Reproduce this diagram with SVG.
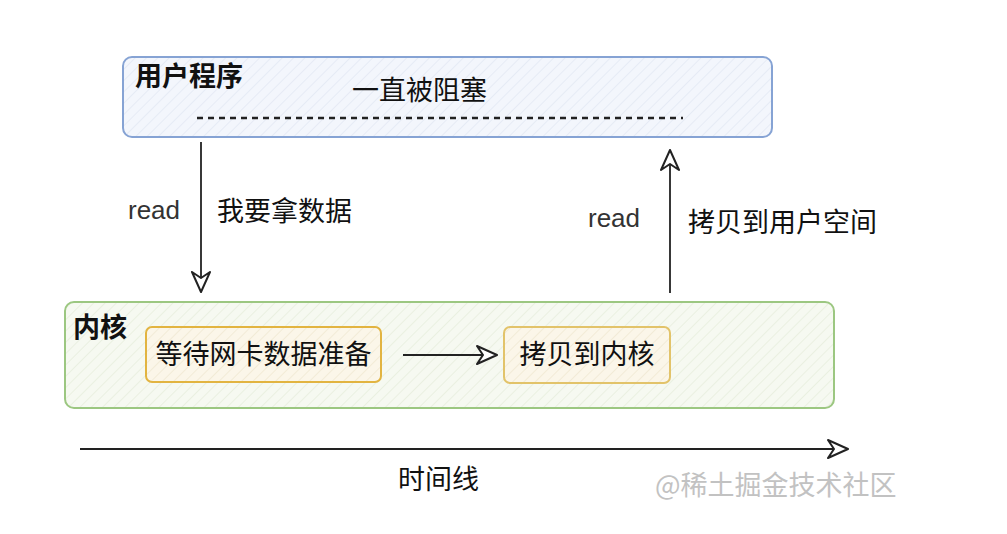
<svg xmlns="http://www.w3.org/2000/svg" width="1007" height="534" viewBox="0 0 1007 534">
<style>
.t{font-family:"Noto Sans CJK SC","Liberation Sans",sans-serif;font-size:27px;fill:#111}
.b{font-weight:bold}
.r{font-family:"Liberation Sans","Noto Sans CJK SC",sans-serif;font-size:26px;fill:#333}
.conn{stroke:#222;stroke-width:1.8;fill:none}
</style>
<defs>
<pattern id="hb" patternUnits="userSpaceOnUse" width="8" height="8" patternTransform="rotate(45)">
<rect width="8" height="8" fill="#f3f6fc"/><line x1="0" y1="0" x2="0" y2="8" stroke="#e2e8f3" stroke-width="1.5"/>
</pattern>
<pattern id="hg" patternUnits="userSpaceOnUse" width="8" height="8" patternTransform="rotate(45)">
<rect width="8" height="8" fill="#f6f9f1"/><line x1="0" y1="0" x2="0" y2="8" stroke="#e6eedc" stroke-width="1.5"/>
</pattern>
<pattern id="hy" patternUnits="userSpaceOnUse" width="8" height="8" patternTransform="rotate(45)">
<rect width="8" height="8" fill="#fbf6e9"/><line x1="0" y1="0" x2="0" y2="8" stroke="#f0e8d2" stroke-width="1.5"/>
</pattern>
<marker id="arr" viewBox="0 0 22 22" refX="21" refY="11" markerWidth="22" markerHeight="22" markerUnits="userSpaceOnUse" orient="auto">
<path d="M1,2 L21,11 L1,20 L7,11 Z" fill="#fff" stroke="#222" stroke-width="2" stroke-linejoin="round"/>
</marker>
</defs>
<rect width="1007" height="534" fill="#fff"/>
<g id="user">
<rect x="123" y="57" width="649" height="80" rx="9" fill="url(#hb)" stroke="#86a3d4" stroke-width="2"/>
<text class="t b" x="135" y="86" font-size="26">用户程序</text>
<text class="t" x="352" y="100">一直被阻塞</text>
<line x1="197" y1="118" x2="683" y2="118" stroke="#222" stroke-width="2.5" stroke-dasharray="6,5"/>
</g>
<g id="kernel">
<rect x="65" y="302" width="769" height="106" rx="9" fill="url(#hg)" stroke="#9cc781" stroke-width="2"/>
<text class="t b" x="73" y="337" font-size="25">内核</text>
</g>
<g id="wait">
<rect x="146" y="327" width="235" height="55" rx="6" fill="url(#hy)" stroke="#e2b441" stroke-width="2"/>
<text class="t" x="263.5" y="364" text-anchor="middle">等待网卡数据准备</text>
</g>
<g id="copyk">
<rect x="504" y="327" width="166" height="56" rx="6" fill="url(#hy)" stroke="#e2c36a" stroke-width="2"/>
<text class="t" x="587" y="364" text-anchor="middle">拷贝到内核</text>
</g>
<g id="connectors">
<line class="conn" x1="201" y1="142" x2="201" y2="292" marker-end="url(#arr)"/>
<line class="conn" x1="670" y1="293" x2="670" y2="150" marker-end="url(#arr)"/>
<line class="conn" x1="403" y1="355" x2="497" y2="355" marker-end="url(#arr)"/>
<line class="conn" x1="80" y1="449" x2="848" y2="449" marker-end="url(#arr)"/>
<text class="r" x="128" y="219">read</text>
<text class="t" x="217" y="221">我要拿数据</text>
<text class="r" x="588" y="227">read</text>
<text class="t" x="688" y="232">拷贝到用户空间</text>
<text class="t" x="398" y="489">时间线</text>
</g>
<text class="t" x="655" y="495" style="fill:#c2c2c2">@稀土掘金技术社区</text>
</svg>
